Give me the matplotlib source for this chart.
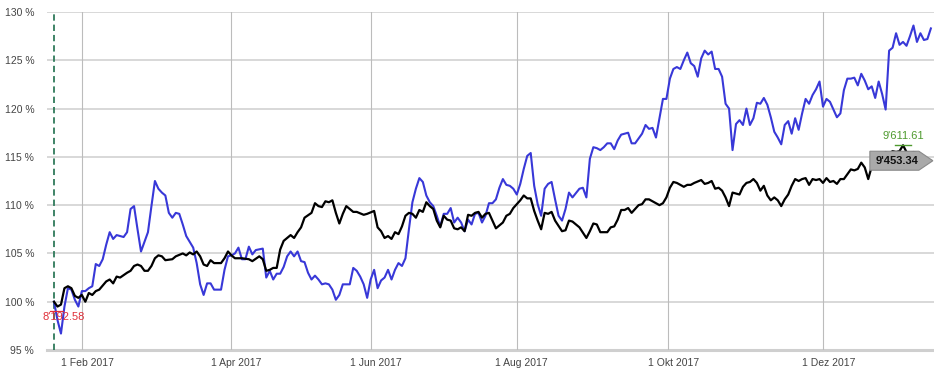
import matplotlib
matplotlib.use("Agg")
import matplotlib.pyplot as plt
import matplotlib.transforms as mtransforms
from matplotlib.patches import Polygon

# ---------------- data (trading-day index, % of start) ----------------
black_day = [0,1,2,3,4,5,6,7,8,9,10,11,12,13,15,16,17,18,19,21,22,23,24,25,26,27,28,29,30,31,32,34,35,37,38,39,40,41,42,43,44,45,46,48,49,50,51,52,53,54,56,57,59,60,61,62,63,64,65,66,68,69,70,71,72,74,75,76,77,78,79,80,81,82,83,84,85,86,87,89,90,92,93,94,95,96,97,98,99,100,101,102,103,104,105,106,107,108,109,110,111,112,113,114,115,116,117,118,119,120,121,122,123,124,125,126,127,129,130,131,132,134,135,136,137,138,139,140,141,142,143,144,146,147,148,149,151,153,154,155,156,157,158,159,160,161,162,163,164,165,166,167,168,169,170,171,173,174,175,176,177,178,179,181,182,183,184,186,187,188,189,190,191,192,193,194,195,196,197,198,199,200,201,202,203,204,205,206,207,208,209,210,211,212,213,214,215,216,217,218,219,220,221,222,223,224,225,226,227,228,229,230,231,232,233,234,235,236,237,238,239,240,241,242,243,244,245,246,247,248,249,250,251,252]
black_pct = [100.0,99.5,99.7,101.4,101.6,101.4,100.6,100.4,100.7,100.0,100.9,100.7,101.1,101.25,102.1,102.3,101.9,102.6,102.5,103.0,103.2,103.7,103.85,103.7,103.2,103.2,103.7,104.5,104.8,104.7,104.3,104.4,104.7,105.0,104.8,105.1,104.9,105.2,104.7,103.85,103.7,104.3,104.0,104.0,104.5,105.2,104.8,104.5,104.5,104.5,104.4,104.2,104.7,104.4,103.2,103.3,103.5,103.5,105.4,106.3,106.9,106.6,107.2,107.7,108.7,109.2,110.2,109.9,109.8,110.4,110.3,110.5,109.2,108.1,109.1,109.9,109.6,109.3,109.3,109.0,109.1,109.4,107.7,107.3,106.6,106.8,106.5,107.2,107.0,107.8,108.9,109.2,109.1,108.7,109.5,109.3,110.3,109.9,109.6,108.4,107.7,108.9,108.5,108.4,107.6,107.5,107.7,107.3,109.0,108.9,109.2,109.3,108.7,109.1,109.2,108.4,107.6,108.2,108.9,109.1,109.7,110.5,111.0,110.7,110.7,109.4,108.4,107.5,109.2,109.1,109.3,108.4,107.3,107.4,108.4,108.3,107.7,106.6,107.3,108.1,108.0,107.2,107.2,107.2,107.7,107.8,108.5,109.5,109.5,109.7,109.2,109.6,110.0,110.1,110.6,110.6,110.2,110.0,110.2,110.8,111.8,112.4,112.3,111.9,112.1,112.1,112.3,112.6,112.2,112.3,112.5,111.7,111.8,111.5,110.8,109.9,111.3,111.2,111.1,111.9,112.3,112.4,112.7,112.3,111.5,112.0,111.0,110.5,110.8,110.5,109.9,110.6,111.1,112.0,112.7,112.5,112.7,112.8,112.1,112.7,112.6,112.7,112.3,112.8,112.4,112.5,112.2,112.7,112.7,113.2,113.7,113.6,113.75,114.4,113.9,112.7,114.0,114.8,115.2,115.0,115.5,115.3,115.6,115.5,115.6,116.2,115.5,115.4,115.5,115.4,115.1,114.9,114.7,114.6]

blue_day = [0,1,2,3,4,5,6,7,8,9,10,11,12,13,14,15,16,17,18,20,21,22,23,24,25,27,28,29,30,31,32,33,34,35,36,37,38,40,41,42,43,44,45,46,48,49,50,51,52,53,54,55,56,57,58,60,61,62,63,64,65,66,67,68,69,70,71,72,73,74,75,76,77,78,79,80,81,82,83,85,86,87,88,89,90,91,92,93,94,95,96,97,98,99,100,101,102,103,104,105,106,107,108,109,110,111,112,113,114,115,116,117,118,119,120,121,122,123,124,125,126,127,128,129,130,131,132,133,134,135,136,137,138,139,140,141,142,143,144,145,146,147,148,149,151,152,153,154,155,156,157,158,159,160,161,162,163,165,166,167,168,169,170,171,172,173,174,175,176,177,178,179,180,181,182,183,184,185,186,187,188,189,190,191,192,193,194,195,196,197,198,199,200,201,202,203,204,205,206,207,208,209,210,211,212,213,214,215,216,217,218,219,220,221,222,223,225,226,227,228,229,230,231,232,233,234,235,236,237,238,239,240,241,242,243,244,245,246,247,248,249,250,251,252]
blue_pct = [100.0,98.1,96.7,99.5,101.4,101.25,100.2,99.5,101.1,101.1,101.4,101.6,103.9,103.7,104.4,105.9,107.2,106.5,106.9,106.7,107.2,109.6,109.9,107.5,105.2,107.2,109.9,112.5,111.7,111.3,111.0,109.2,108.7,109.2,109.1,108.0,106.8,105.6,104.0,101.8,100.7,101.9,101.9,101.25,101.25,103.3,104.7,104.8,105.0,105.6,104.4,104.4,105.7,104.9,105.35,105.5,102.5,103.2,102.3,102.9,102.9,103.6,104.7,105.2,104.7,105.2,104.2,104.1,103.0,102.3,102.7,102.3,101.8,101.9,101.8,101.25,100.2,100.7,101.8,101.8,103.5,103.2,102.6,101.8,100.4,102.3,103.3,101.4,102.2,102.5,103.3,102.3,103.3,104.0,103.7,104.5,107.5,110.3,111.7,112.8,112.4,111.0,110.3,109.9,108.9,107.8,109.1,109.1,109.7,108.2,108.7,108.2,107.3,108.5,108.0,109.1,109.2,108.2,108.9,110.2,110.2,110.6,111.8,112.7,112.1,112.0,111.7,111.1,112.2,113.75,115.1,115.4,112.0,110.1,108.9,111.7,112.2,112.4,110.6,108.9,108.4,109.6,111.3,110.8,111.7,111.8,110.8,114.8,116.0,115.9,115.7,116.0,116.4,116.4,115.8,116.7,117.3,117.5,116.4,116.4,116.9,117.4,118.3,117.9,118.0,117.0,119.0,121.0,121.0,123.1,124.1,124.3,124.1,125.0,125.8,124.7,124.4,123.3,125.2,126.0,125.6,125.9,124.1,124.1,123.3,120.5,120.0,115.7,118.4,118.8,118.3,120.0,118.3,119.0,120.6,120.5,121.1,120.4,119.1,117.6,117.0,116.3,118.3,118.7,117.4,119.0,117.8,119.5,121.0,120.5,121.4,122.0,122.8,120.2,121.0,120.7,119.1,119.5,121.9,123.1,123.1,123.2,122.4,123.6,122.9,122.0,122.3,121.1,122.8,121.5,119.9,126.0,126.3,127.8,126.6,126.9,126.5,127.5,128.6,126.9,127.8,127.1,127.2,128.3]

month_day = [8.1, 50.9, 91.0, 133.0, 176.5, 221.1]
month_labels = ["1 Feb 2017", "1 Apr 2017", "1 Jun 2017", "1 Aug 2017", "1 Okt 2017", "1 Dez 2017"]
y_ticks = [95, 100, 105, 110, 115, 120, 125, 130]
y_labels = ["95 %", "100 %", "105 %", "110 %", "115 %", "120 %", "125 %", "130 %"]
min_label = "8'192.58"
max_label = "9'611.61"
last_label = "9'453.34"

# ---------------- figure ----------------
W, H = 934, 377
fig = plt.figure(figsize=(W / 100, H / 100), dpi=100)
ax = fig.add_axes([46.7 / W, (H - 350) / H, 1 - 46.7 / W, (350 - 12) / H])
ax.set_xlim(-2.1, 252.9)
ax.set_ylim(95, 130)
for s in ax.spines.values():
    s.set_visible(False)

font = "Liberation Sans"
ax.set_yticks(y_ticks)
ax.set_yticklabels(y_labels, fontsize=7.5, color="#444444", family=font)
ax.set_xticks(month_day)
ax.set_xticklabels(month_labels, fontsize=7.5, color="#444444", family=font)
ax.tick_params(axis="both", length=0)
ax.tick_params(axis="y", pad=9)
ax.tick_params(axis="x", pad=6)
for lbl in ax.get_xticklabels():
    lbl.set_transform(lbl.get_transform() + mtransforms.ScaledTranslation(5 / 100, 0, fig.dpi_scale_trans))

for yt in y_ticks[1:]:
    ax.axhline(yt, color="#d2d2d2", lw=1.2, zorder=0)
ax.axhline(95, color="#cfcfcf", lw=2.2, zorder=0, clip_on=False)
for xt in month_day:
    ax.axvline(xt, color="#bcbcbc", lw=0.8, zorder=0)

ax.axvline(0, color="#2f7a5a", lw=1.3, ls=(0, (3.5, 2.2)), zorder=1)

ax.plot(blue_day, blue_pct, color="#3838d8", lw=1.5, zorder=3, solid_joinstyle="round")
ax.plot(black_day, black_pct, color="#000000", lw=1.6, zorder=4, solid_joinstyle="round")

def off(dx, dy):
    return ax.transData + mtransforms.ScaledTranslation(dx / 100, dy / 100, fig.dpi_scale_trans)

# min marker
imin = black_pct.index(min(black_pct))
xm, ym = black_day[imin], black_pct[imin]
ax.add_line(plt.Line2D([-7 / 100, 6 / 100], [-4 / 100, -4 / 100],
                       transform=fig.dpi_scale_trans + mtransforms.ScaledTranslation(xm, ym, ax.transData),
                       color="#e0303a", lw=0.9, zorder=6, clip_on=False))
ax.text(xm, ym, min_label, transform=off(6, -10), ha="center", va="center",
        fontsize=8, color="#e0303a", family=font, zorder=6)

# max marker
imax = black_pct.index(max(black_pct))
xM, yM = black_day[imax], black_pct[imax]
ax.add_line(plt.Line2D([-8 / 100, 8 / 100], [0, 0],
                       transform=fig.dpi_scale_trans + mtransforms.ScaledTranslation(xM, yM, ax.transData),
                       color="#4e9a2e", lw=1.0, zorder=6, clip_on=False))
ax.text(xM, yM, max_label, transform=off(0, 9.5), ha="center", va="center",
        fontsize=8, color="#4e9a2e", family=font, zorder=6)

# last value label
xl, yl = black_day[-1], black_pct[-1]
tr = fig.dpi_scale_trans + mtransforms.ScaledTranslation(xl, yl, ax.transData)
verts = [(2, 0), (-12, 9.5), (-61, 9.5), (-61, -9.5), (-12, -9.5)]
poly = Polygon([(vx / 100, vy / 100) for vx, vy in verts], closed=True, transform=tr,
               facecolor="#a9a9a9", edgecolor="#8a8a8a", lw=0.8, zorder=7, clip_on=False)
ax.add_patch(poly)
ax.text(-33.5 / 100, 0, last_label, transform=tr, ha="center", va="center",
        fontsize=8, fontweight="bold", color="#111111", family=font, zorder=8)

fig.savefig("out.png", dpi=100)
